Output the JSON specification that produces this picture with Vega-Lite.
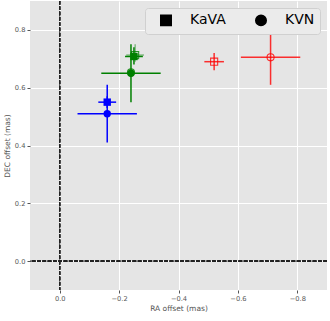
{
  "$schema": "https://vega.github.io/schema/vega-lite/v6.json",
  "width": 297,
  "height": 289,
  "autosize": {"type": "none"},
  "padding": {"left": 30, "top": 1, "right": 3, "bottom": 31},
  "background": "white",
  "config": {
    "font": "DejaVu Sans",
    "view": {"fill": "#e5e5e5", "stroke": null},
    "axis": {
      "domain": false,
      "grid": true,
      "gridColor": "white",
      "gridWidth": 1,
      "tickColor": "#555555",
      "tickSize": 3,
      "labelFont": "DejaVu Sans",
      "labelFontSize": 6.7,
      "labelColor": "#555555",
      "labelPadding": 2,
      "titleFont": "DejaVu Sans",
      "titleFontSize": 7.5,
      "titleColor": "#555555",
      "titleFontWeight": "normal"
    }
  },
  "data": {
    "values": [
      {"grp": "blue", "array": "KaVA", "fill": "filled", "ra": -0.16, "dec": 0.55, "ra_lo": -0.13, "ra_hi": -0.19, "dec_lo": 0.53, "dec_hi": 0.57},
      {"grp": "blue", "array": "KVN", "fill": "filled", "ra": -0.16, "dec": 0.51, "ra_lo": -0.06, "ra_hi": -0.26, "dec_lo": 0.41, "dec_hi": 0.61},
      {"grp": "green", "array": "KaVA", "fill": "filled", "ra": -0.25, "dec": 0.708, "ra_lo": -0.22, "ra_hi": -0.28, "dec_lo": 0.68, "dec_hi": 0.74},
      {"grp": "green", "array": "KaVA", "fill": "hollow", "ra": -0.254, "dec": 0.713, "ra_lo": -0.224, "ra_hi": -0.284, "dec_lo": 0.69, "dec_hi": 0.75},
      {"grp": "green", "array": "KVN", "fill": "filled", "ra": -0.24, "dec": 0.65, "ra_lo": -0.14, "ra_hi": -0.34, "dec_lo": 0.55, "dec_hi": 0.75},
      {"grp": "green", "array": "KVN", "fill": "hollow", "ra": -0.24, "dec": 0.653, "ra_lo": -0.14, "ra_hi": -0.34, "dec_lo": 0.55, "dec_hi": 0.75},
      {"grp": "red", "array": "KaVA", "fill": "hollow", "ra": -0.52, "dec": 0.69, "ra_lo": -0.487, "ra_hi": -0.553, "dec_lo": 0.66, "dec_hi": 0.72},
      {"grp": "red", "array": "KVN", "fill": "hollow", "ra": -0.71, "dec": 0.705, "ra_lo": -0.61, "ra_hi": -0.81, "dec_lo": 0.61, "dec_hi": 0.795}
    ]
  },
  "encoding": {
    "color": {"field": "grp", "type": "nominal", "scale": {"domain": ["blue", "green", "red"], "range": ["#0000ff", "#008000", "#ff0000"]}, "legend": null},
    "opacity": {"field": "fill", "type": "nominal", "scale": {"domain": ["filled", "hollow"], "range": [1, 0.8]}, "legend": null}
  },
  "layer": [
    {
      "transform": [{"filter": "datum.fill === 'filled' || datum.grp === 'red'"}],
      "mark": {"type": "rule", "strokeWidth": 1.5},
      "encoding": {
        "x": {"field": "ra_lo", "type": "quantitative", "scale": {"domain": [0.1, -0.9], "nice": false, "zero": false}, "axis": {"title": "RA offset (mas)", "values": [0, -0.2, -0.4, -0.6, -0.8], "format": ".1f", "titlePadding": 3}},
        "x2": {"field": "ra_hi"},
        "y": {"field": "dec", "type": "quantitative", "scale": {"domain": [-0.1, 0.9], "nice": false, "zero": false}, "axis": {"title": "DEC offset (mas)", "values": [0, 0.2, 0.4, 0.6, 0.8], "format": ".1f", "titlePadding": 3}}
      }
    },
    {
      "transform": [{"filter": "datum.fill === 'filled' || datum.grp === 'red'"}],
      "mark": {"type": "rule", "strokeWidth": 1.5},
      "encoding": {
        "x": {"field": "ra", "type": "quantitative"},
        "y": {"field": "dec_lo", "type": "quantitative"},
        "y2": {"field": "dec_hi"}
      }
    },
    {
      "transform": [{"filter": "datum.fill === 'hollow' && datum.grp === 'green' && datum.array === 'KaVA'"}],
      "mark": {"type": "rule", "strokeWidth": 1.2},
      "encoding": {
        "x": {"field": "ra_lo", "type": "quantitative"},
        "x2": {"field": "ra_hi"},
        "y": {"field": "dec", "type": "quantitative"},
        "opacity": {"value": 0.55}
      }
    },
    {
      "transform": [{"filter": "datum.fill === 'hollow' && datum.grp === 'green' && datum.array === 'KaVA'"}],
      "mark": {"type": "rule", "strokeWidth": 1.2},
      "encoding": {
        "x": {"field": "ra", "type": "quantitative"},
        "y": {"field": "dec_lo", "type": "quantitative"},
        "y2": {"field": "dec_hi"},
        "opacity": {"value": 0.55}
      }
    },
    {
      "transform": [{"filter": "datum.fill === 'filled'"}],
      "mark": {"type": "point", "filled": true, "size": 55},
      "encoding": {
        "x": {"field": "ra", "type": "quantitative"},
        "y": {"field": "dec", "type": "quantitative"},
        "shape": {
          "field": "array", "type": "nominal",
          "scale": {"domain": ["KaVA", "KVN"], "range": ["square", "circle"]},
          "legend": {
            "title": null,
            "orient": "none",
            "legendX": 115,
            "legendY": 7,
            "direction": "horizontal",
            "fillColor": "#ebebeb",
            "strokeColor": "#d0d0d0",
            "cornerRadius": 3,
            "padding": 5,
            "symbolOffset": 9,
            "symbolSize": 110,
            "symbolFillColor": "black",
            "symbolStrokeColor": "black",
            "symbolOpacity": 1,
            "labelFont": "DejaVu Sans",
            "labelFontSize": 14,
            "labelColor": "black",
            "labelOffset": 17,
            "columnPadding": 19
          }
        }
      }
    },
    {
      "transform": [{"filter": "datum.fill === 'hollow'"}],
      "mark": {"type": "point", "filled": false, "size": 50, "strokeWidth": 1.1},
      "encoding": {
        "x": {"field": "ra", "type": "quantitative"},
        "y": {"field": "dec", "type": "quantitative"},
        "shape": {"field": "array", "type": "nominal", "legend": null}
      }
    },
    {
      "mark": {"type": "rule", "strokeWidth": 1, "strokeDash": [3.7, 1.6]},
      "encoding": {"x": {"datum": 0, "type": "quantitative"}, "color": {"value": "#222222"}, "opacity": {"value": 1}}
    },
    {
      "mark": {"type": "rule", "strokeWidth": 1, "strokeDash": [3.7, 1.6]},
      "encoding": {"y": {"datum": 0, "type": "quantitative"}, "color": {"value": "#222222"}, "opacity": {"value": 1}}
    }
  ]
}
